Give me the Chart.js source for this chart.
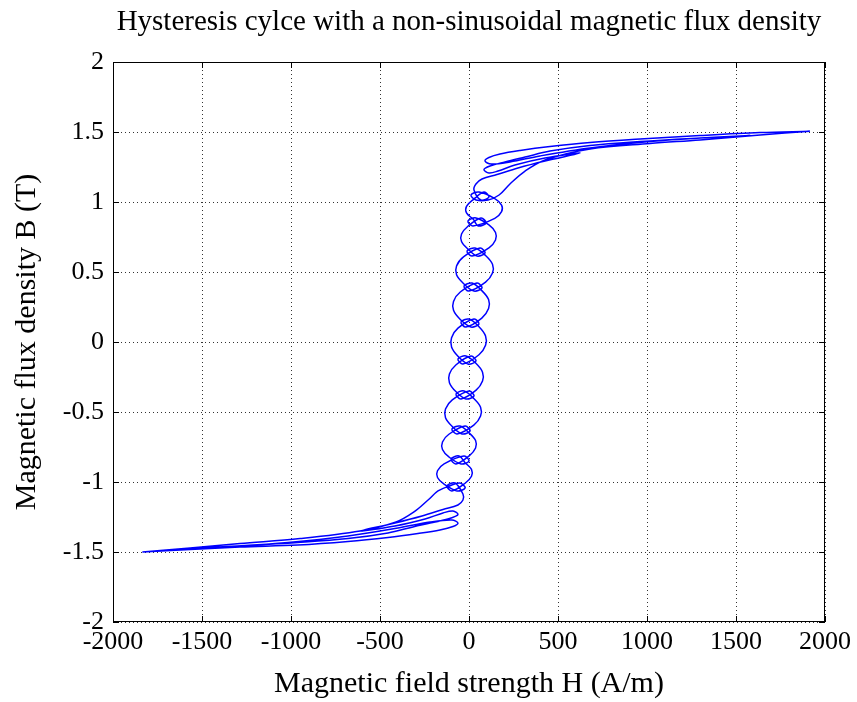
<!DOCTYPE html>
<html>
<head>
<meta charset="utf-8">
<script src="https://cdn.jsdelivr.net/npm/chart.js@4.4.1/dist/chart.umd.min.js"></script>
<style>
  html, body { margin: 0; padding: 0; background: #fff; }
  #wrap { width: 857px; height: 702px; }
</style>
</head>
<body>
<div id="wrap"><canvas id="chart" width="857" height="702"></canvas></div>
<script>
// Text
const titleText = 'Hysteresis cylce with a non-sinusoidal magnetic flux density';
const xTitle = 'Magnetic field strength H (A/m)';
const yTitle = 'Magnetic flux density B (T)';

// Tick values
const xTicks = [-2000, -1500, -1000, -500, 0, 500, 1000, 1500, 2000];
const yTicks = [-2, -1.5, -1, -0.5, 0, 0.5, 1, 1.5, 2];

// Descending part of the loop (positive tip -> negative tip), H in A/m
const descH = [1915, 1635, 1298, 961, 680, 455, 287, 174, 112, 90,
  124, 230, 399, 680, 1017, 1354, 1579, 1298, 961, 680,
  455, 315, 202, 118, 84, 112, 163, 258, 427, 624,
  427, 275, 157, 73, 39,
  28, 67, 112, 84,
  24, -14, -14, 24, 51, 96, 67,
  -6, -42, -42, -6, 45, 90, 62,
  -31, -70, -70, -31, 28, 73, 45,
  -49, -87, -87, -49, 11, 56, 28,
  -62, -98, -98, -62, -6, 39, 11,
  -74, -110, -110, -74, -17, 28, 0,
  -94, -132, -132, -94, -39, 6, -22,
  -113, -149, -149, -113, -45, 0, -28,
  -140, -177, -177, -140, -67, -22, -51,
  -112, -174, -230, -309, -410, -612, -949, -1287, -1567, -1835];
// B in T
const descB = [1.505, 1.496, 1.475, 1.450, 1.425, 1.396, 1.368, 1.343, 1.318, 1.293,
  1.271, 1.286, 1.329, 1.386, 1.432, 1.461, 1.475, 1.457, 1.432, 1.404,
  1.364, 1.321, 1.286, 1.257, 1.232, 1.207, 1.221, 1.264, 1.314, 1.350,
  1.293, 1.243, 1.196, 1.164, 1.129,
  1.086, 1.014, 1.036, 1.071,
  1.017, 0.969, 0.922, 0.876, 0.829, 0.850, 0.886,
  0.827, 0.771, 0.718, 0.664, 0.614, 0.636, 0.671,
  0.608, 0.543, 0.480, 0.418, 0.364, 0.386, 0.421,
  0.357, 0.290, 0.226, 0.161, 0.107, 0.129, 0.164,
  0.099, 0.030, -0.036, -0.102, -0.157, -0.136, -0.100,
  -0.164, -0.229, -0.291, -0.354, -0.407, -0.386, -0.350,
  -0.414, -0.479, -0.541, -0.604, -0.657, -0.636, -0.600,
  -0.659, -0.714, -0.768, -0.821, -0.871, -0.850, -0.814,
  -0.870, -0.920, -0.968, -1.016, -1.064, -1.043, -1.007,
  -1.029, -1.064, -1.129, -1.214, -1.286, -1.350, -1.404, -1.439, -1.471, -1.500];

// Ascending part (negative tip -> positive tip)
const ascH = [-1835, -1567, -1287, -961, -680, -455, -287, -163, -90, -62,
  -96, -219, -399, -680, -1017, -1354, -1579, -1298, -961, -680,
  -455, -315, -191, -101, -62, -90, -146, -247, -416, -612,
  -416, -264, -146, -62, -34,
  -34, -79, -124, -96,
  -22, 14, 14, -22, -56, -101, -73,
  1, 37, 37, 1, -51, -96, -67,
  27, 65, 65, 27, -28, -73, -45,
  40, 76, 76, 40, -17, -62, -34,
  56, 93, 93, 56, 0, -45, -17,
  72, 110, 110, 72, 17, -28, 0,
  93, 132, 132, 93, 34, -11, 17,
  112, 149, 149, 112, 39, -6, 22,
  145, 183, 183, 145, 56, 11, 39,
  107, 169, 230, 315, 427, 680, 1017, 1298, 1635, 1915];
const ascB = [-1.500, -1.482, -1.464, -1.450, -1.425, -1.396, -1.368, -1.343, -1.318, -1.293,
  -1.271, -1.286, -1.329, -1.386, -1.432, -1.461, -1.475, -1.457, -1.432, -1.404,
  -1.364, -1.321, -1.286, -1.257, -1.232, -1.207, -1.221, -1.264, -1.314, -1.350,
  -1.293, -1.243, -1.196, -1.164, -1.129,
  -1.086, -1.007, -1.029, -1.064,
  -1.009, -0.959, -0.910, -0.862, -0.814, -0.836, -0.871,
  -0.813, -0.757, -0.704, -0.650, -0.600, -0.621, -0.657,
  -0.594, -0.529, -0.466, -0.404, -0.350, -0.371, -0.407,
  -0.344, -0.279, -0.216, -0.154, -0.100, -0.121, -0.157,
  -0.091, -0.023, 0.043, 0.109, 0.164, 0.143, 0.107,
  0.171, 0.239, 0.303, 0.367, 0.421, 0.400, 0.364,
  0.428, 0.493, 0.555, 0.618, 0.671, 0.650, 0.614,
  0.673, 0.729, 0.782, 0.836, 0.886, 0.864, 0.829,
  0.883, 0.931, 0.978, 1.024, 1.071, 1.050, 1.014,
  1.014, 1.050, 1.129, 1.221, 1.300, 1.379, 1.418, 1.443, 1.479, 1.505];

const serif = '"Liberation Serif", "DejaVu Serif", serif';

// build the point list for the line
const loopPoints = [];
descH.forEach((h, i) => loopPoints.push({x: h, y: descB[i]}));
ascH.forEach((h, i) => loopPoints.push({x: h, y: ascB[i]}));

// box, inward ticks and the title (matlab look)
const framePlugin = {
    id: 'frame',
    afterDraw(chart) {
        const ctx = chart.ctx;
        const a = chart.chartArea;
        const xs = chart.scales.x;
        const ys = chart.scales.y;
        ctx.save();
        ctx.strokeStyle = '#000';
        ctx.lineWidth = 1;
        ctx.beginPath();
        xTicks.forEach(v => {
            const px = Math.round(xs.getPixelForValue(v)) + 0.5;
            ctx.moveTo(px, a.bottom); ctx.lineTo(px, a.bottom - 6);
            ctx.moveTo(px, a.top); ctx.lineTo(px, a.top + 6);
        });
        yTicks.forEach(v => {
            const py = Math.round(ys.getPixelForValue(v)) + 0.5;
            ctx.moveTo(a.left, py); ctx.lineTo(a.left + 6, py);
            ctx.moveTo(a.right, py); ctx.lineTo(a.right - 6, py);
        });
        ctx.stroke();
        ctx.strokeRect(a.left + 0.5, a.top + 0.5, a.right - a.left - 1, a.bottom - a.top - 1);
        ctx.fillStyle = '#000';
        ctx.font = '29px ' + serif;
        ctx.textAlign = 'center';
        ctx.textBaseline = 'middle';
        ctx.fillText(titleText, (a.left + a.right) / 2, 22);
        ctx.restore();
    }
};

const ctx = document.getElementById('chart').getContext('2d');
const chart = new Chart(ctx, {
    type: 'scatter',
    data: {
        datasets: [{
            data: loopPoints,
            showLine: true,
            borderColor: '#0000ff',
            borderWidth: 1.5,
            pointRadius: 0,
            tension: 0.35,
            fill: false
        }]
    },
    options: {
        responsive: false,
        animation: false,
        devicePixelRatio: 1,
        layout: { padding: { top: 62, right: 32, bottom: 0, left: 0 } },
        plugins: {
            legend: { display: false },
            tooltip: { enabled: false }
        },
        scales: {
            x: {
                type: 'linear',
                min: -2000,
                max: 2000,
                afterFit: s => { s.height = 80; },
                afterBuildTicks: s => { s.ticks = xTicks.map(v => ({value: v})); },
                ticks: {
                    color: '#000',
                    font: { family: serif, size: 26 },
                    padding: 5,
                    maxRotation: 0,
                    callback: v => String(v)
                },
                grid: { color: '#333', lineWidth: 1, drawTicks: false },
                border: { display: false, dash: [1, 3] },
                title: {
                    display: true,
                    text: xTitle,
                    color: '#000',
                    font: { family: serif, size: 30 },
                    padding: { top: 0, bottom: 0 }
                }
            },
            y: {
                type: 'linear',
                min: -2,
                max: 2,
                afterFit: s => { s.width = 113; },
                afterBuildTicks: s => { s.ticks = yTicks.map(v => ({value: v})); },
                ticks: {
                    color: '#000',
                    font: { family: serif, size: 26 },
                    padding: 9,
                    callback: v => String(v)
                },
                grid: { color: '#333', lineWidth: 1, drawTicks: false },
                border: { display: false, dash: [1, 3] },
                title: {
                    display: true,
                    text: yTitle,
                    color: '#000',
                    font: { family: serif, size: 30 },
                    padding: { top: 9, bottom: 0 }
                }
            }
        }
    },
    plugins: [framePlugin]
});
</script>
</body>
</html>
